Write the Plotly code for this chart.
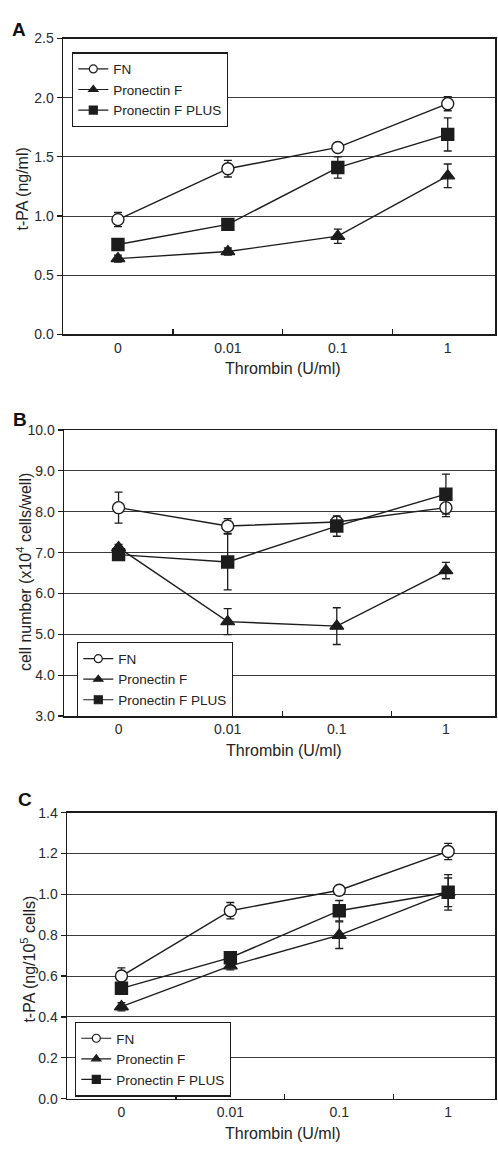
import plotly.graph_objects as go

# ---------------- data ----------------
categories = ["0", "0.01", "0.1", "1"]
series_names = ["FN", "Pronectin F", "Pronectin F PLUS"]

# Panel A: t-PA (ng/ml)
fn_a = [0.97, 1.40, 1.58, 1.95]
fn_a_err = [0.06, 0.07, 0.03, 0.06]
pf_a = [0.64, 0.70, 0.83, 1.34]
pf_a_err = [0.03, 0.03, 0.06, 0.10]
pfp_a = [0.76, 0.93, 1.41, 1.69]
pfp_a_err = [0.03, 0.03, 0.09, 0.14]

# Panel B: cell number (x10^4 cells/well)
fn_b = [8.10, 7.65, 7.75, 8.10]
fn_b_err = [0.38, 0.18, 0.10, 0.22]
pf_b = [7.12, 5.31, 5.20, 6.56]
pf_b_err = [0.08, 0.32, 0.45, 0.20]
pfp_b = [6.95, 6.77, 7.65, 8.43]
pfp_b_err = [0.05, 0.68, 0.25, 0.49]

# Panel C: t-PA (ng/10^5 cells)
fn_c = [0.60, 0.92, 1.02, 1.21]
fn_c_err = [0.04, 0.04, 0.02, 0.04]
pf_c = [0.45, 0.65, 0.80, 1.01]
pf_c_err = [0.02, 0.02, 0.065, 0.087]
pfp_c = [0.54, 0.69, 0.92, 1.01]
pfp_c_err = [0.02, 0.02, 0.05, 0.07]

# ---------------- style ----------------
W, H = 498, 1150
INK = "#1c1c1c"
GRID = "#3a3a3a"
FONT = "Liberation Sans, Arial, sans-serif"
symbols = ["circle", "triangle-up", "square"]
fills = ["white", INK, INK]


def px(x):
    return x / W


def py(y):
    return 1 - y / H


panels = [
    dict(key="", legend="legend",
         series=[(fn_a, fn_a_err), (pf_a, pf_a_err), (pfp_a, pfp_a_err)],
         yrange=[0, 2.5], dtick=0.5,
         xdom=(63, 495), ydom=(31, 331), xrange=[-0.5, 3.43],
         leg=(72, 45), letter="A", letter_pos=(19, 22),
         ytitle="t-PA (ng/ml)", ytitle_pos=(22, 184),
         xtitle_pos=(283, 366)),
    dict(key="2", legend="legend2",
         series=[(fn_b, fn_b_err), (pf_b, pf_b_err), (pfp_b, pfp_b_err)],
         yrange=[3, 10], dtick=1,
         xdom=(64, 495), ydom=(428, 718), xrange=[-0.5, 3.45],
         leg=(77, 643), letter="B", letter_pos=(20, 417),
         ytitle="cell number (x10<sup>4</sup> cells/well)", ytitle_pos=(24, 572),
         xtitle_pos=(284, 753)),
    dict(key="3", legend="legend3",
         series=[(fn_c, fn_c_err), (pf_c, pf_c_err), (pfp_c, pfp_c_err)],
         yrange=[0, 1.4], dtick=0.2,
         xdom=(67, 495), ydom=(816, 1106), xrange=[-0.5, 3.43],
         leg=(75, 1028), letter="C", letter_pos=(25, 803),
         ytitle="t-PA (ng/10<sup>5</sup> cells)", ytitle_pos=(28, 965),
         xtitle_pos=(283, 1141)),
]

fig = go.Figure()
annotations = []
layout = {}

for p in panels:
    k = p["key"]
    xa = "x" + k
    ya = "y" + k
    for (vals, errs), name, sym, fill in zip(p["series"], series_names, symbols, fills):
        fig.add_trace(go.Scatter(
            x=categories, y=vals, xaxis=xa, yaxis=ya,
            mode="lines+markers", name=name, showlegend=False,
            line=dict(color=INK, width=1.4),
            marker=dict(symbol=sym, size=12, color=fill,
                        line=dict(color=INK, width=1.4)),
            error_y=dict(type="data", array=errs, visible=True,
                         color=INK, thickness=1.3, width=4),
        ))
    # legend entries (smaller symbols, as in the original legend boxes)
    for name, sym, fill in zip(series_names, symbols, fills):
        fig.add_trace(go.Scatter(
            x=[None], y=[None], xaxis=xa, yaxis=ya,
            mode="lines+markers", name=name, legend=p["legend"],
            line=dict(color=INK, width=1.2),
            marker=dict(symbol=sym, size=8, color=fill,
                        line=dict(color=INK, width=1.2)),
        ))

    layout["xaxis" + k] = dict(
        domain=[px(p["xdom"][0]), px(p["xdom"][1])],
        anchor=ya, type="category", categoryorder="array",
        categoryarray=categories, range=p["xrange"],
        tickson="boundaries", ticks="inside", ticklen=5, tickwidth=1.2,
        tickcolor=INK, showline=True, linecolor=INK, linewidth=1.5,
        mirror=True, showgrid=False, zeroline=False,
        tickfont=dict(family=FONT, size=14, color="#2a2a2a"),
    )
    layout["yaxis" + k] = dict(
        domain=[py(p["ydom"][1]), py(p["ydom"][0])],
        anchor=xa, range=p["yrange"], dtick=p["dtick"], tick0=0,
        tickformat=".1f", ticks="outside", ticklen=5, tickwidth=1.2,
        tickcolor=INK, showline=True, linecolor=INK, linewidth=1.5,
        mirror=True, showgrid=True, gridcolor=GRID, gridwidth=1,
        zeroline=False,
        tickfont=dict(family=FONT, size=14, color="#2a2a2a"),
    )
    layout[p["legend"]] = dict(
        x=px(p["leg"][0]), y=py(p["leg"][1]), xanchor="left", yanchor="top",
        bgcolor="white", bordercolor=INK, borderwidth=1.3,
        font=dict(family=FONT, size=13.5, color="#222"),
        tracegroupgap=0, itemwidth=30,
    )
    annotations.append(dict(
        text="<b>%s</b>" % p["letter"], x=px(p["letter_pos"][0]), y=py(p["letter_pos"][1]),
        xref="paper", yref="paper", showarrow=False, xanchor="center", yanchor="middle",
        font=dict(family=FONT, size=19, color="#111"),
    ))
    annotations.append(dict(
        text=p["ytitle"], x=px(p["ytitle_pos"][0]), y=py(p["ytitle_pos"][1]),
        xref="paper", yref="paper", showarrow=False, textangle=-90,
        xanchor="center", yanchor="middle",
        font=dict(family=FONT, size=16, color="#222"),
    ))
    annotations.append(dict(
        text="Thrombin (U/ml)", x=px(p["xtitle_pos"][0]), y=py(p["xtitle_pos"][1]),
        xref="paper", yref="paper", showarrow=False,
        xanchor="center", yanchor="middle",
        font=dict(family=FONT, size=16, color="#222"),
    ))

fig.update_layout(
    width=W, height=H, margin=dict(l=0, r=0, t=0, b=0),
    paper_bgcolor="white", plot_bgcolor="white",
    font=dict(family=FONT, color="#222"),
    annotations=annotations,
    hovermode=False,
    **layout,
)

fig.write_html(
    "out.html",
    config={"displayModeBar": False, "staticPlot": True},
    post_script="document.body.style.margin='0';document.body.style.overflow='hidden';",
)
